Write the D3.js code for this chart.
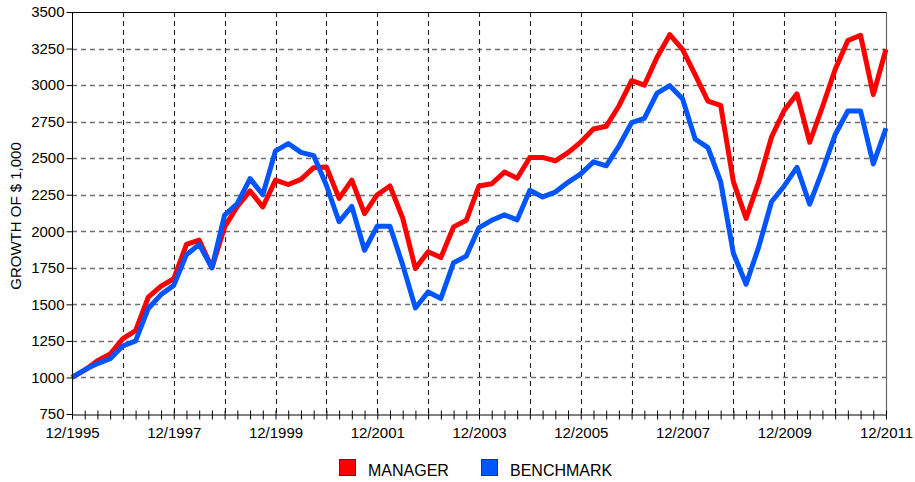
<!DOCTYPE html>
<html>
<head>
<meta charset="utf-8">
<script src="https://cdn.jsdelivr.net/npm/d3@7"></script>
<style>
  html, body { margin: 0; padding: 0; background: #fff; }
  svg { display: block; font-family: "Liberation Sans", Arial, sans-serif; }
</style>
</head>
<body>
<svg id="chart" width="915" height="482"></svg>
<script>
// Quarter-end observations, 12/1995 .. 12/2011 (65 points)
const seriesNames = ["MANAGER", "BENCHMARK"];
const seriesColors = ["#ff0000", "#0055ff"];
const manager = [
  1000, 1050, 1115, 1160, 1265, 1320, 1550, 1625, 1675,
  1910, 1940, 1750, 2030, 2170, 2276, 2166, 2350,
  2320, 2355, 2435, 2440, 2225, 2350, 2120, 2250,
  2310, 2090, 1745, 1860, 1820, 2030, 2075, 2310,
  2325, 2405, 2363, 2505, 2505, 2482, 2538, 2610,
  2700, 2718, 2857, 3030, 3000, 3190, 3345, 3245,
  3070, 2890, 2862, 2340, 2088, 2340, 2645, 2828,
  2940, 2609, 2850, 3107, 3305, 3340, 2935, 3245
];
const benchmark = [
  1000, 1052, 1095, 1128, 1215, 1250, 1472, 1567, 1630,
  1840, 1910, 1750, 2110, 2190, 2360, 2250, 2550,
  2600, 2540, 2518, 2315, 2065, 2170, 1870, 2035,
  2035, 1770, 1475, 1585, 1540, 1785, 1830, 2025,
  2075, 2112, 2078, 2280, 2235, 2268, 2335, 2393,
  2475, 2448, 2583, 2743, 2772, 2945, 2996, 2906,
  2630, 2572, 2340, 1850, 1638, 1895, 2202, 2310,
  2437, 2185, 2415, 2660, 2823, 2823, 2460, 2705
];
const xTickLabels = ["12/1995", "12/1997", "12/1999", "12/2001", "12/2003",
                     "12/2005", "12/2007", "12/2009", "12/2011"];
const yTickValues = [750, 1000, 1250, 1500, 1750, 2000, 2250, 2500, 2750, 3000, 3250, 3500];
const yTitle = "GROWTH OF $ 1,000";

const quartersPerYear = 4;
const nPoints = manager.length;
const margin = { left: 72, right: 29, top: 12, bottom: 68 };
const W = 915, H = 482;
const svg = d3.select("#chart");

const x = d3.scaleLinear().domain([0, nPoints - 1]).range([margin.left, W - margin.right]);
const y = d3.scaleLinear().domain([750, 3500]).range([H - margin.bottom, margin.top]);

const x0 = x.range()[0], x1 = x.range()[1];
const yTop = y.range()[1], yBot = y.range()[0];

// horizontal grid
svg.append("g").selectAll("line")
  .data(yTickValues.filter(v => v > 750 && v < 3500))
  .join("line")
  .attr("x1", x0).attr("x2", x1)
  .attr("y1", d => Math.round(y(d)) + 0.5).attr("y2", d => Math.round(y(d)) + 0.5)
  .attr("stroke", "#6e6e6e").attr("stroke-width", 1.3)
  .attr("stroke-dasharray", "5,4");

// vertical grid (each year)
const yearIdx = d3.range(quartersPerYear, nPoints - 1, quartersPerYear);
svg.append("g").selectAll("line")
  .data(yearIdx)
  .join("line")
  .attr("x1", d => Math.round(x(d)) + 0.5).attr("x2", d => Math.round(x(d)) + 0.5)
  .attr("y1", yTop).attr("y2", yBot)
  .attr("stroke", "#222").attr("stroke-width", 1.1)
  .attr("stroke-dasharray", "5,4");

// top and right borders
svg.append("line").attr("x1", x0).attr("x2", x1).attr("y1", yTop + 0.5).attr("y2", yTop + 0.5)
  .attr("stroke", "#000").attr("stroke-width", 1);
svg.append("line").attr("x1", x1 + 0.5).attr("x2", x1 + 0.5).attr("y1", yTop).attr("y2", yBot)
  .attr("stroke", "#666").attr("stroke-width", 1.2);

// lines
const line = d3.line().x((d, i) => x(i)).y(d => y(d));
[manager, benchmark].forEach((s, k) => {
  svg.append("path").datum(s)
    .attr("d", line)
    .attr("fill", "none")
    .attr("stroke", seriesColors[k])
    .attr("stroke-width", 5)
    .attr("stroke-linejoin", "round")
    .attr("stroke-linecap", "butt");
});

// y axis
const yAxis = svg.append("g").attr("transform", `translate(${x0 + 0.5},0)`)
  .call(d3.axisLeft(y).tickValues(yTickValues).tickSize(6).tickPadding(2).tickFormat(d3.format("d")));
yAxis.select(".domain").attr("stroke", "#000").attr("d", `M0,${yTop}V${yBot}`);
yAxis.selectAll("text").attr("font-size", 15).attr("fill", "#000")
  .attr("font-family", "Liberation Sans, Arial, sans-serif");

// x axis: quarterly ticks crossing the axis line
const xAxisG = svg.append("g").attr("transform", `translate(0,${yBot + 0.5})`);
xAxisG.call(d3.axisBottom(x).tickValues(d3.range(0, nPoints)).tickSizeInner(5).tickSizeOuter(0).tickFormat(""));
xAxisG.select(".domain").attr("stroke", "#000");
xAxisG.selectAll(".tick").append("line").attr("y1", 0).attr("y2", -4).attr("stroke", "#000");

const xLab = svg.append("g").attr("transform", `translate(0,${yBot})`)
  .call(d3.axisBottom(x)
    .tickValues(d3.range(0, nPoints, 2 * quartersPerYear))
    .tickSize(0).tickPadding(13)
    .tickFormat((d, i) => xTickLabels[i]));
xLab.select(".domain").remove();
xLab.selectAll("text").attr("font-size", 15).attr("fill", "#000")
  .attr("font-family", "Liberation Sans, Arial, sans-serif");

// y title
svg.append("text")
  .attr("transform", `translate(21,${(yTop + yBot) / 2 + 3}) rotate(-90)`)
  .attr("text-anchor", "middle")
  .attr("font-size", 15)
  .text(yTitle);

// legend
const legendItems = [
  { name: seriesNames[0], color: seriesColors[0], x: 339 },
  { name: seriesNames[1], color: seriesColors[1], x: 481 }
];
const lg = svg.append("g");
legendItems.forEach(it => {
  lg.append("rect").attr("x", it.x + 0.5).attr("y", 459.5).attr("width", 16).attr("height", 16)
    .attr("fill", it.color).attr("stroke", "#333").attr("stroke-width", 1);
  lg.append("text").attr("x", it.x + 29).attr("y", 476).attr("font-size", 16).text(it.name);
});
</script>
</body>
</html>
